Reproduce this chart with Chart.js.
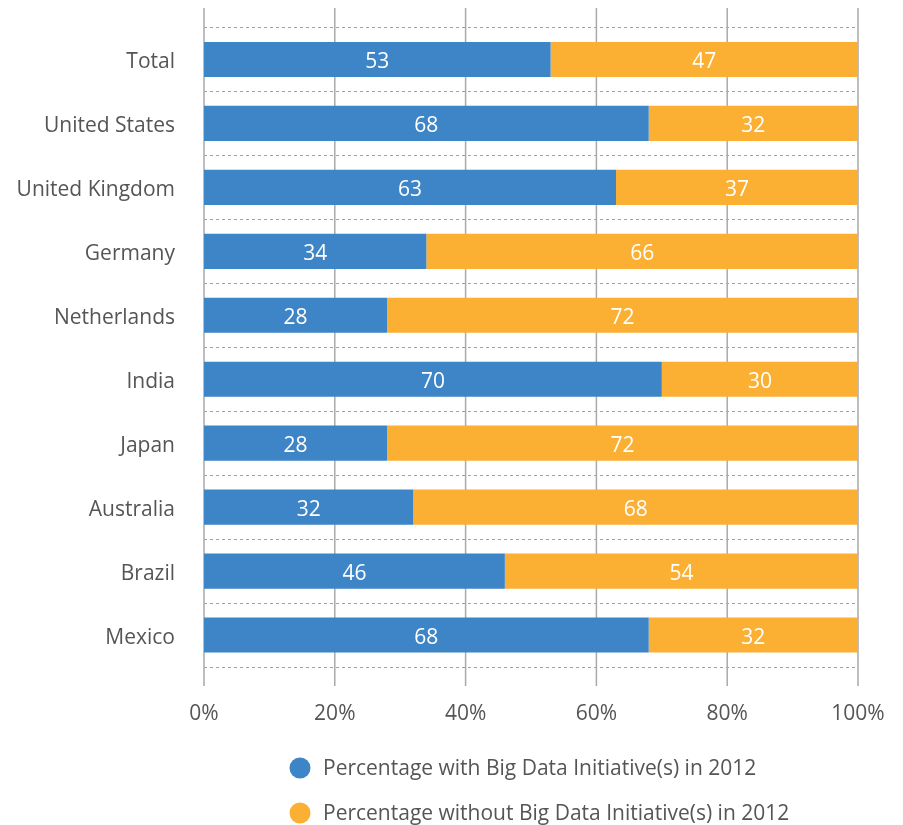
<!DOCTYPE html>
<html>
<head>
<meta charset="utf-8">
<script src="https://cdn.jsdelivr.net/npm/chart.js@4"></script>
<style>
  body { margin: 0; background: #fff; }
  #wrap { width: 903px; height: 825px; }
</style>
</head>
<body>
<div id="wrap"><canvas id="myChart" width="903" height="825"></canvas></div>
<script>
'use strict';

var countries = ['Total', 'United States', 'United Kingdom', 'Germany', 'Netherlands', 'India', 'Japan', 'Australia', 'Brazil', 'Mexico'];
var withInitiative = [53, 68, 63, 34, 28, 70, 28, 32, 46, 68];
var withoutInitiative = [47, 32, 37, 66, 72, 30, 72, 68, 54, 32];
var percentTicks = [0, 20, 40, 60, 80, 100];

var BLUE = 'rgb(61, 133, 198)';
var ORANGE = 'rgb(251, 176, 52)';
var TEXT = '#555555';
var FONT = '"Open Sans", "Noto Sans", sans-serif';

// tall vertical gridlines that run a little past the plot area
var vGrid = {
    id: 'vGrid',
    beforeDatasetsDraw: function (chart) {
        var ctx = chart.ctx, area = chart.chartArea, x = chart.scales.x;
        ctx.save();
        ctx.strokeStyle = '#a9a9a9';
        ctx.lineWidth = 1.5;
        percentTicks.forEach(function (v) {
            var px = x.getPixelForValue(v);
            ctx.beginPath();
            ctx.moveTo(px, area.top - 19.5);
            ctx.lineTo(px, area.bottom + 19);
            ctx.stroke();
        });
        ctx.restore();
    }
};

// white value labels in the middle of each segment
var barValues = {
    id: 'barValues',
    afterDatasetsDraw: function (chart) {
        var ctx = chart.ctx;
        ctx.save();
        ctx.fillStyle = '#ffffff';
        ctx.font = '21px ' + FONT;
        ctx.textAlign = 'center';
        ctx.textBaseline = 'middle';
        chart.data.datasets.forEach(function (ds, i) {
            chart.getDatasetMeta(i).data.forEach(function (bar, j) {
                ctx.fillText(ds.data[j], (bar.x + bar.base) / 2, bar.y + 3);
            });
        });
        ctx.restore();
    }
};

// legend stacked in two rows under the axis
var rowLegend = {
    id: 'rowLegend',
    afterDraw: function (chart) {
        var ctx = chart.ctx, area = chart.chartArea;
        ctx.save();
        ctx.font = '21px ' + FONT;
        ctx.textBaseline = 'middle';
        ctx.textAlign = 'left';
        chart.data.datasets.forEach(function (ds, i) {
            var y = area.bottom + 101 + i * 45;
            ctx.fillStyle = ds.backgroundColor;
            ctx.beginPath();
            ctx.arc(300, y, 10.5, 0, Math.PI * 2);
            ctx.fill();
            ctx.fillStyle = TEXT;
            ctx.fillText(ds.label, 323, y + 1);
        });
        ctx.restore();
    }
};

var ctx = document.getElementById('myChart').getContext('2d');
var chart = new Chart(ctx, {
    type: 'bar',
    data: {
        labels: countries,
        datasets: [{
            label: 'Percentage with Big Data Initiative(s) in 2012',
            backgroundColor: BLUE,
            data: withInitiative
        }, {
            label: 'Percentage without Big Data Initiative(s) in 2012',
            backgroundColor: ORANGE,
            data: withoutInitiative
        }]
    },
    options: {
        indexAxis: 'y',
        responsive: false,
        animation: false,
        categoryPercentage: 1,
        barPercentage: 0.55,
        layout: { padding: { left: 0, right: 45, top: 27.5, bottom: 98 } },
        plugins: {
            legend: { display: false },
            tooltip: { enabled: false }
        },
        scales: {
            x: {
                stacked: true,
                min: 0,
                max: 100,
                afterFit: function (scale) {
                    scale.height = 60;
                    scale.paddingRight = 0;
                    scale.paddingLeft = 0;
                },
                afterBuildTicks: function (scale) {
                    scale.ticks = percentTicks.map(function (v) { return { value: v }; });
                },
                grid: { display: false, drawTicks: false },
                border: { display: false },
                ticks: {
                    padding: 34,
                    color: TEXT,
                    font: { family: FONT, size: 21 },
                    callback: function (v) { return v + '%'; }
                }
            },
            y: {
                stacked: true,
                afterFit: function (scale) {
                    scale.width = 204;
                    scale.paddingTop = 0;
                    scale.paddingBottom = 0;
                },
                grid: { color: '#a0a0a0', lineWidth: 1, drawTicks: false, offset: true },
                border: { display: false, dash: [3, 3] },
                ticks: {
                    padding: 29,
                    labelOffset: 3,
                    color: TEXT,
                    font: { family: FONT, size: 21 }
                }
            }
        }
    },
    plugins: [vGrid, barValues, rowLegend]
});
</script>
</body>
</html>
